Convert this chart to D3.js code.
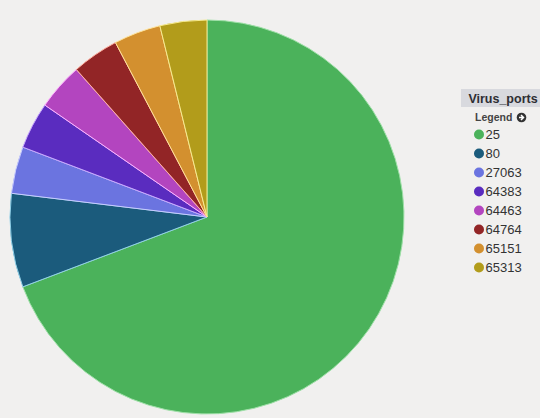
<!DOCTYPE html>
<html><head><meta charset="utf-8">
<script src="https://cdn.jsdelivr.net/npm/d3@7"></script>
<style>
html,body{margin:0;padding:0;background:#f1f0ef;}
svg{display:block;font-family:"Liberation Sans",Arial,sans-serif;}
</style></head>
<body><svg id="c" width="540" height="418"></svg>
<script>
const categories = ["25","80","27063","64383","64463","64764","65151","65313"];
const values = [18,2,1,1,1,1,1,1];
const colors = ["#4bb25b","#1b5b7c","#6b74e0","#5a2cbf","#b345bf","#922526","#d3902f","#b29c1b"];
const strokes = ["#9fe0a8","#8fd0e8","#c8ccff","#c9a8ff","#ffb0ff","#ffb0a0","#ffe39a","#f6ea8f"];
const title = "Virus_ports";

const svg = d3.select("#c");
const cx = 207, cy = 217, r = 197;
const data = categories.map((c,i)=>({c, v:values[i], i}));
const pie = d3.pie().value(d=>d.v).sort(null);
const arc = d3.arc().innerRadius(0).outerRadius(r);
const g = svg.append("g").attr("transform",`translate(${cx},${cy})`);
g.selectAll("path").data(pie(data)).join("path")
  .attr("d",arc)
  .attr("fill",d=>colors[d.data.i])
  .attr("stroke",d=>strokes[d.data.i])
  .attr("stroke-width",1);

// legend
const lg = svg.append("g");
lg.append("rect").attr("x",461).attr("y",89).attr("width",79).attr("height",18).attr("fill","#d8d9de");
lg.append("text").attr("x",503).attr("y",103).attr("text-anchor","middle")
  .attr("font-size",12.5).attr("font-weight","bold").attr("fill","#2e2e33").text(title);
lg.append("text").attr("x",475).attr("y",121).attr("font-size",10.5).attr("font-weight","bold").attr("fill","#444").text("Legend");
const ic = lg.append("g").attr("transform","translate(521.5,117.5)");
ic.append("circle").attr("r",4.8).attr("fill","#333");
ic.append("path").attr("d","M-2.5,0 H1.5 M-0.5,-2.5 L2,0 L-0.5,2.5").attr("stroke","#fff").attr("stroke-width",1.5).attr("fill","none");

const y = d3.scaleBand().domain(categories).range([125,277]);
const items = lg.selectAll("g.item").data(data).join("g").attr("class","item")
  .attr("transform",d=>`translate(0,${y(d.c)+y.bandwidth()/2})`);
items.append("circle").attr("cx",479).attr("cy",0).attr("r",5).attr("fill",d=>colors[d.i]);
items.append("text").attr("x",485.5).attr("y",4.5).attr("font-size",13).attr("fill","#333").text(d=>d.c);
</script></body></html>
